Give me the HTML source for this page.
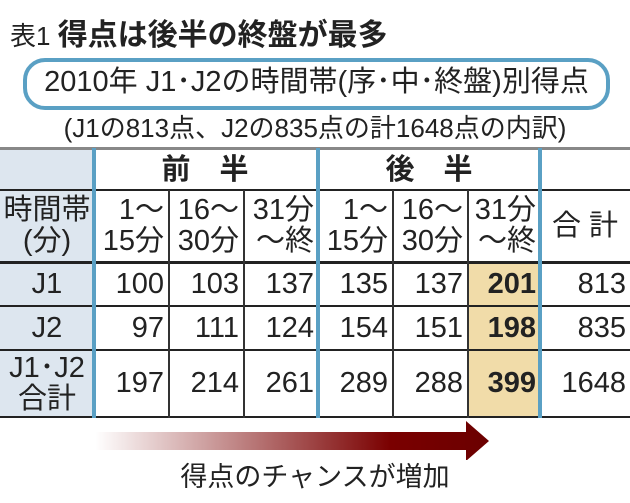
<!DOCTYPE html><html><head><meta charset="utf-8"><style>
body{margin:0;width:630px;height:503px;background:#fff;position:relative;overflow:hidden;font-family:"Liberation Sans","Noto Sans CJK JP",sans-serif;color:#222}
.a{position:absolute;white-space:nowrap}
.c{position:absolute;display:flex;align-items:center;justify-content:center;text-align:center;line-height:31px;font-size:29px;white-space:nowrap}
.r{justify-content:flex-end;padding-right:4px;box-sizing:border-box;text-align:right}
.hl{position:absolute}
</style></head><body>
<div class="a" style="left:10px;top:10px;font-size:26px">表1 <b style="font-size:30px">得点は後半の終盤が最多</b></div>
<div class="a" style="left:23px;top:58px;width:579px;height:44px;border:4px solid #5aa0c4;border-radius:22px"></div>
<div class="a" style="left:23px;top:62px;width:587px;text-align:center;font-size:29px;line-height:40px">2010年 J1･J2の時間帯(序･中･終盤)別得点</div>
<div class="a" style="left:0;top:113px;width:630px;text-align:center;font-size:26px;line-height:30px">(J1の813点、J2の835点の計1648点の内訳)</div>
<div class="hl" style="left:0;top:148px;width:94px;height:270px;background:#dde6ef"></div>
<div class="hl" style="left:467px;top:263px;width:73px;height:155px;background:#f1dca9"></div>
<div class="hl" style="left:0;top:147px;width:630px;height:3px;background:#888"></div>
<div class="hl" style="left:0;top:189px;width:630px;height:2px;background:#222"></div>
<div class="hl" style="left:0;top:261px;width:630px;height:3px;background:#222"></div>
<div class="hl" style="left:0;top:305px;width:630px;height:2px;background:#222"></div>
<div class="hl" style="left:0;top:349px;width:630px;height:2px;background:#222"></div>
<div class="hl" style="left:0;top:416px;width:630px;height:2px;background:#222"></div>
<div class="hl" style="left:168px;top:190px;width:2px;height:228px;background:#333"></div>
<div class="hl" style="left:243px;top:190px;width:2px;height:228px;background:#333"></div>
<div class="hl" style="left:392px;top:190px;width:2px;height:228px;background:#333"></div>
<div class="hl" style="left:467px;top:190px;width:2px;height:228px;background:#333"></div>
<div class="hl" style="left:92px;top:148px;width:4px;height:270px;background:#5aa0c4"></div>
<div class="hl" style="left:316px;top:148px;width:4px;height:270px;background:#5aa0c4"></div>
<div class="hl" style="left:538px;top:148px;width:4px;height:270px;background:#5aa0c4"></div>
<div class="c" style="left:94px;top:150px;width:222px;height:40px;font-weight:bold">前　半</div>
<div class="c" style="left:318px;top:150px;width:222px;height:40px;font-weight:bold">後　半</div>
<div class="c" style="left:0;top:191px;width:94px;height:70px">時間帯<br>(分)</div>
<div class="c r" style="left:94px;top:191px;width:74px;height:70px">1～<br>15分</div>
<div class="c r" style="left:169px;top:191px;width:74px;height:70px">16～<br>30分</div>
<div class="c r" style="left:244px;top:191px;width:74px;height:70px">31分<br>～終</div>
<div class="c r" style="left:318px;top:191px;width:74px;height:70px">1～<br>15分</div>
<div class="c r" style="left:393px;top:191px;width:74px;height:70px">16～<br>30分</div>
<div class="c r" style="left:468px;top:191px;width:72px;height:70px">31分<br>～終</div>
<div class="c" style="left:540px;top:191px;width:90px;height:70px">合 計</div>
<div class="c" style="left:0;top:263px;width:94px;height:42px">J1</div>
<div class="c r" style="left:94px;top:263px;width:74px;height:42px">100</div>
<div class="c r" style="left:169px;top:263px;width:74px;height:42px">103</div>
<div class="c r" style="left:244px;top:263px;width:74px;height:42px">137</div>
<div class="c r" style="left:318px;top:263px;width:74px;height:42px">135</div>
<div class="c r" style="left:393px;top:263px;width:74px;height:42px">137</div>
<div class="c r" style="left:468px;top:263px;width:72px;height:42px;font-weight:bold">201</div>
<div class="c r" style="left:540px;top:263px;width:90px;height:42px">813</div>
<div class="c" style="left:0;top:307px;width:94px;height:42px">J2</div>
<div class="c r" style="left:94px;top:307px;width:74px;height:42px">97</div>
<div class="c r" style="left:169px;top:307px;width:74px;height:42px">111</div>
<div class="c r" style="left:244px;top:307px;width:74px;height:42px">124</div>
<div class="c r" style="left:318px;top:307px;width:74px;height:42px">154</div>
<div class="c r" style="left:393px;top:307px;width:74px;height:42px">151</div>
<div class="c r" style="left:468px;top:307px;width:72px;height:42px;font-weight:bold">198</div>
<div class="c r" style="left:540px;top:307px;width:90px;height:42px">835</div>
<div class="c" style="left:0;top:351px;width:94px;height:65px">J1･J2<br>合計</div>
<div class="c r" style="left:94px;top:351px;width:74px;height:65px">197</div>
<div class="c r" style="left:169px;top:351px;width:74px;height:65px">214</div>
<div class="c r" style="left:244px;top:351px;width:74px;height:65px">261</div>
<div class="c r" style="left:318px;top:351px;width:74px;height:65px">289</div>
<div class="c r" style="left:393px;top:351px;width:74px;height:65px">288</div>
<div class="c r" style="left:468px;top:351px;width:72px;height:65px;font-weight:bold">399</div>
<div class="c r" style="left:540px;top:351px;width:90px;height:65px">1648</div>
<svg class="a" style="left:0;top:420px" width="630" height="40"><defs><linearGradient id="g" x1="0" x2="1"><stop offset="0" stop-color="#7a0000" stop-opacity="0"/><stop offset="0.75" stop-color="#7a0000"/><stop offset="1" stop-color="#6b0000"/></linearGradient></defs><polygon points="95,12 466,12 466,1 489,21 466,41 466,30 95,30" fill="url(#g)"/></svg>
<div class="a" style="left:0;top:461px;width:630px;text-align:center;font-size:27px;line-height:32px">得点のチャンスが増加</div>
</body></html>
